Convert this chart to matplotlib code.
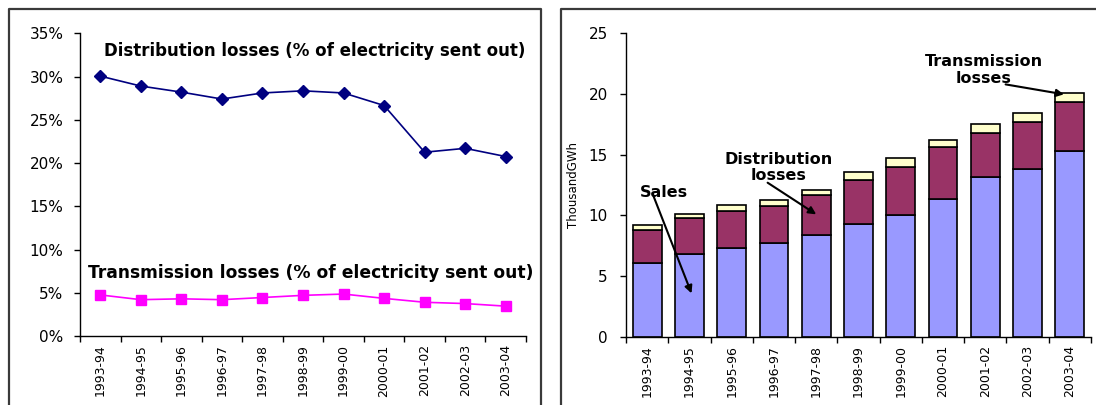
"""Electricity losses: loss rates as a share of output, and sales stacked with losses."""

import matplotlib.pyplot as plt
from matplotlib.lines import Line2D
from matplotlib.ticker import FixedLocator, PercentFormatter


# ---------------------------------------------------------------------------
# Data
# ---------------------------------------------------------------------------
YEARS = ["1993-94", "1994-95", "1995-96", "1996-97", "1997-98", "1998-99",
         "1999-00", "2000-01", "2001-02", "2002-03", "2003-04"]

# Losses as % of electricity sent out
DISTRIBUTION_PCT = [30.05, 28.9, 28.2, 27.4, 28.1, 28.35, 28.1, 26.65, 21.25, 21.7, 20.75]
TRANSMISSION_PCT = [4.75, 4.2, 4.3, 4.2, 4.45, 4.7, 4.85, 4.35, 3.9, 3.75, 3.45]

# Thousand GWh
SALES = [6.1, 6.85, 7.35, 7.75, 8.35, 9.25, 10.05, 11.35, 13.2, 13.8, 15.3]
DISTRIBUTION_LOSSES = [2.7, 2.9, 3.0, 3.0, 3.3, 3.65, 3.95, 4.25, 3.6, 3.85, 4.05]
TRANSMISSION_LOSSES = [0.4, 0.4, 0.5, 0.5, 0.45, 0.7, 0.7, 0.6, 0.7, 0.75, 0.7]

# ---------------------------------------------------------------------------
# Styles
# ---------------------------------------------------------------------------
NAVY = "#000080"
MAGENTA = "#FF00FF"
SALES_COLOR = "#9999FF"
DIST_COLOR = "#993366"
TRANS_COLOR = "#FFFFCC"
FRAME_COLOR = "#3A3A3A"

W, H = 1096, 405


def style_axis(ax, ylabel_pad):
    n = len(YEARS)
    ax.set_xlim(-0.5, n - 0.5)
    ax.spines["top"].set_visible(False)
    ax.spines["right"].set_visible(False)
    for side in ("left", "bottom"):
        ax.spines[side].set_linewidth(1.0)
    ax.set_xticks(range(n))
    ax.set_xticklabels(YEARS, rotation=90, fontsize=9)
    ax.xaxis.set_minor_locator(FixedLocator([i - 0.5 for i in range(n + 1)]))
    ax.tick_params(axis="x", which="major", length=0, pad=6)
    ax.tick_params(axis="x", which="minor", length=4, width=1.0, direction="out")
    ax.tick_params(axis="y", length=4, width=1.0, direction="out",
                   labelsize=11, pad=ylabel_pad)


def main():
    fig = plt.figure(figsize=(W / 100, H / 100), dpi=100)

    # --- left panel: loss rates -------------------------------------------
    ax1 = fig.add_axes([80 / W, 1 - 336 / H, 446 / W, (336 - 33.3) / H])
    x = range(len(YEARS))
    ax1.plot(x, DISTRIBUTION_PCT, color=NAVY, lw=1.2, marker="D",
             markersize=6.5, clip_on=False)
    ax1.plot(x, TRANSMISSION_PCT, color=MAGENTA, lw=1.2, marker="s",
             markersize=7, clip_on=False)
    ax1.set_ylim(0, 35)
    ax1.set_yticks(range(0, 36, 5))
    ax1.yaxis.set_major_formatter(PercentFormatter(xmax=100, decimals=0))
    style_axis(ax1, 8)

    ax1.text(0.09, 32.9, "Distribution losses (% of electricity sent out)",
             fontsize=12, fontweight="bold", ha="left", va="center")
    ax1.text(-0.31, 7.3, "Transmission losses (% of electricity sent out)",
             fontsize=12.3, fontweight="bold", ha="left", va="center", clip_on=False)

    # --- right panel: stacked sales and losses ------------------------------
    ax2 = fig.add_axes([626 / W, 1 - 336.7 / H, 465 / W, (336.7 - 33.3) / H])
    bottoms = [s + d for s, d in zip(SALES, DISTRIBUTION_LOSSES)]
    bar_kw = dict(width=0.68, edgecolor="black", linewidth=1.2)
    ax2.bar(x, SALES, color=SALES_COLOR, **bar_kw)
    ax2.bar(x, DISTRIBUTION_LOSSES, bottom=SALES, color=DIST_COLOR, **bar_kw)
    ax2.bar(x, TRANSMISSION_LOSSES, bottom=bottoms, color=TRANS_COLOR, **bar_kw)
    ax2.set_ylim(0, 25)
    ax2.set_yticks(range(0, 26, 5))
    style_axis(ax2, 9)
    ax2.set_ylabel("ThousandGWh", fontsize=8.5, labelpad=6)

    label_kw = dict(fontsize=11.5, fontweight="bold", ha="center", va="center")
    arrow_kw = dict(arrowstyle="-|>", color="black", lw=1.5,
                    mutation_scale=11, shrinkA=0, shrinkB=0)
    ax2.text(0.4, 11.86, "Sales", **label_kw)
    ax2.annotate("", xy=(1.05, 3.57), xytext=(0.15, 11.59), arrowprops=arrow_kw)
    ax2.text(3.1, 13.94, "Distribution\nlosses", linespacing=1.15, **label_kw)
    ax2.annotate("", xy=(4.0, 10.08), xytext=(2.85, 12.69), arrowprops=arrow_kw)
    ax2.text(7.96, 21.98, "Transmission\nlosses", linespacing=1.15, **label_kw)
    ax2.annotate("", xy=(9.86, 19.97), xytext=(8.48, 20.79), arrowprops=arrow_kw)

    # --- panel frames -------------------------------------------------------
    def fig_line(xs, ys):
        fig.add_artist(Line2D([v / W for v in xs], [1 - v / H for v in ys],
                              color=FRAME_COLOR, lw=1.6,
                              transform=fig.transFigure))

    fig_line([9, 9, 541, 541], [H + 2, 9, 9, H + 2])
    fig_line([561, 561, W + 2], [H + 2, 9, 9])

    fig.savefig("out.png", dpi=100, facecolor="white")
    plt.close(fig)


if __name__ == "__main__":
    main()
